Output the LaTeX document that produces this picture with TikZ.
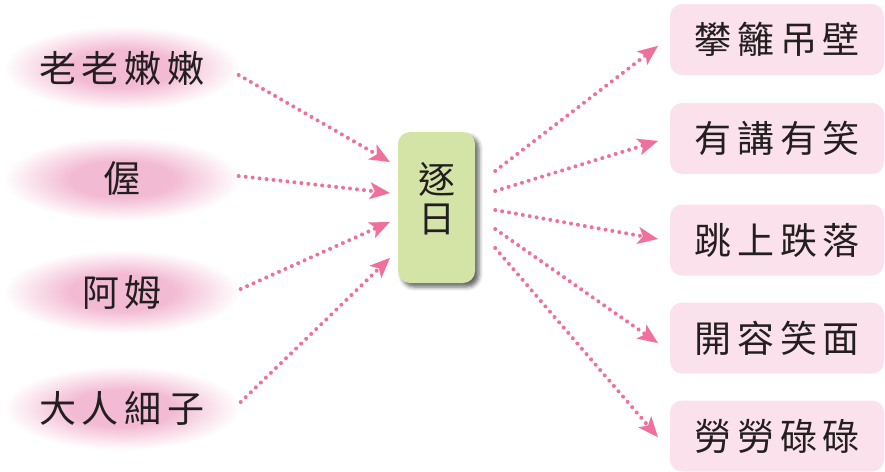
\documentclass[tikz,border=0pt]{standalone}
\usepackage{fontspec}
\setmainfont{Noto Sans CJK TC}
\usetikzlibrary{arrows.meta,shapes.geometric,shadows.blur}
\definecolor{arrpink}{RGB}{239,112,157}
\definecolor{boxpink}{RGB}{251,225,236}
\definecolor{boxgreen}{RGB}{212,228,166}
\definecolor{elpink}{RGB}{243,187,211}
\definecolor{txt}{RGB}{35,31,32}
\pgfdeclareradialshading{fuzzyel}{\pgfpoint{0bp}{0bp}}{color(0bp)=(elpink); color(11bp)=(elpink); color(25bp)=(white); color(50bp)=(white)}
\newcommand\cjkgap{\kern6pt}
\tikzset{
  lbl/.style={font=\fontsize{37pt}{39pt}\selectfont, text=txt},
  elnode/.style={lbl, ellipse, minimum width=237pt, minimum height=84pt, inner sep=0pt, shade, shading=fuzzyel},
  rbox/.style={lbl, rectangle, rounded corners=12pt, fill=boxpink, minimum width=214pt, minimum height=71pt, inner sep=0pt},
  cbox/.style={rectangle, rounded corners=12pt, fill=boxgreen, minimum width=77pt, minimum height=151pt, inner sep=0pt,
    blur shadow={shadow xshift=4pt, shadow yshift=-4pt, shadow blur radius=4pt, shadow opacity=60}},
  arr/.style={draw=arrpink, line width=4pt, line cap=round, dash pattern=on 0pt off 7pt,
    -{Stealth[length=20pt,width=17pt,inset=5pt,line width=0.01pt,fill=arrpink]}},
}
\begin{document}
\begin{tikzpicture}[x=1pt,y=-1pt]
\useasboundingbox (0,0) rectangle (885,471);
% left ellipses
\node[elnode] (l1) at (122,68)  {老\cjkgap 老\cjkgap 嫩\cjkgap 嫩};
\node[elnode] (l2) at (122,179) {偓};
\node[elnode] (l3) at (122,292) {阿\cjkgap 姆};
\node[elnode] (l4) at (122,408) {大\cjkgap 人\cjkgap 細\cjkgap 子};
% center box
\node[cbox] (c) at (436.5,207.5) {};
\node[lbl, align=center, inner sep=0pt] (ct) at (436.5,199) {逐\\日};
% right boxes
\node[rbox] (r1) at (777,39.5)  {攀\cjkgap 籬\cjkgap 吊\cjkgap 壁};
\node[rbox] (r2) at (777,138.5) {有\cjkgap 講\cjkgap 有\cjkgap 笑};
\node[rbox] (r3) at (777,240)   {跳\cjkgap 上\cjkgap 跌\cjkgap 落};
\node[rbox] (r4) at (777,338)   {開\cjkgap 容\cjkgap 笑\cjkgap 面};
\node[rbox] (r5) at (777,436)   {勞\cjkgap 勞\cjkgap 碌\cjkgap 碌};
% left arrows
\draw[arr] ([xshift=-2pt,yshift=-7pt]l1.east) -- ([xshift=-8pt,yshift=45.5pt]c.west);
\draw[arr] ([xshift=-2pt,yshift=3pt]l2.east) -- ([xshift=-8pt,yshift=14.5pt]c.west);
\draw[arr] ([xshift=0pt,yshift=3pt]l3.east) -- ([xshift=-8pt,yshift=-14.5pt]c.west);
\draw[arr] ([xshift=0pt,yshift=6pt]l4.east) -- ([xshift=-8pt,yshift=-50.5pt]c.west);
% right arrows
\draw[arr] ([xshift=20pt,yshift=36.5pt]c.east) -- ([xshift=-12pt,yshift=-6.5pt]r1.west);
\draw[arr] ([xshift=20pt,yshift=16.5pt]c.east) -- ([xshift=-12pt,yshift=-2.5pt]r2.west);
\draw[arr] ([xshift=20pt,yshift=-2.5pt]c.east) -- ([xshift=-12pt,yshift=1pt]r3.west);
\draw[arr] ([xshift=20pt,yshift=-21.5pt]c.east) -- ([xshift=-12pt,yshift=-5pt]r4.west);
\draw[arr] ([xshift=20pt,yshift=-40.5pt]c.east) -- ([xshift=-12pt,yshift=-1pt]r5.west);
\end{tikzpicture}
\end{document}
